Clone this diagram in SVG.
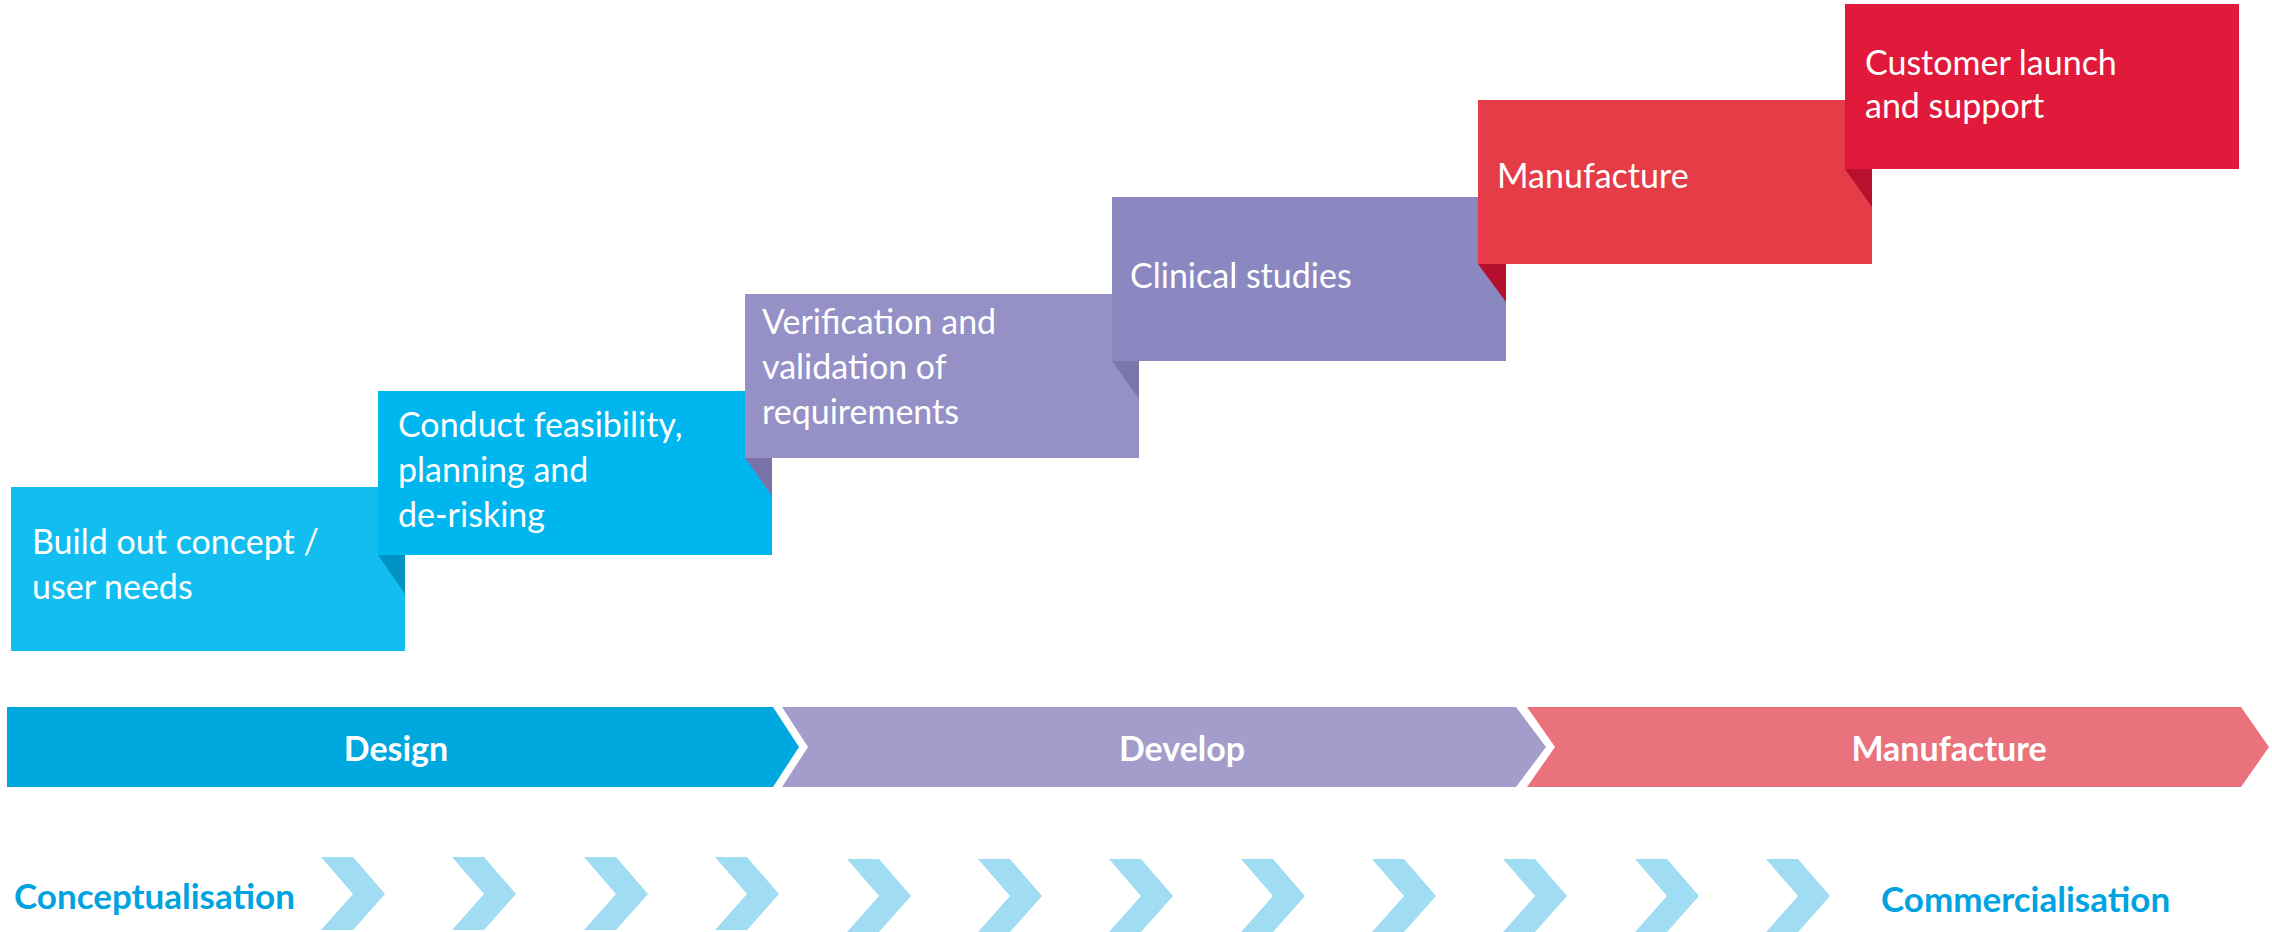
<svg xmlns="http://www.w3.org/2000/svg" width="2272" height="932" viewBox="0 0 2272 932">
<style>
.t{font-family:Lato,"Liberation Sans",sans-serif;font-size:34px;fill:#fff}
.b{font-family:Lato,"Liberation Sans",sans-serif;font-size:34px;font-weight:bold}
.l{font-size:35px}
.w{fill:#fff}
.c{fill:#00A3DF}
.ch{fill:#A0DDF2}
</style>
<rect width="2272" height="932" fill="#fff"/>
<g id="step1">
<rect x="11" y="487" width="394" height="164" fill="#12BEF0"/>
<text class="t"><tspan x="32" y="554">Build out concept /</tspan><tspan x="32" y="599">user needs</tspan></text>
</g>
<g id="step2">
<rect x="378" y="391" width="394" height="164" fill="#00B6EE"/>
<polygon points="378,555 405,555 405,594" fill="#0093C3"/>
<text class="t"><tspan x="398" y="437">Conduct feasibility,</tspan><tspan x="398" y="482">planning and</tspan><tspan x="398" y="527">de-risking</tspan></text>
</g>
<g id="step3">
<rect x="745" y="294" width="394" height="164" fill="#9590C6"/>
<polygon points="745,458 772,458 772,496" fill="#7A73A9"/>
<text class="t"><tspan x="762" y="334">Verification and</tspan><tspan x="762" y="379">validation of</tspan><tspan x="762" y="424">requirements</tspan></text>
</g>
<g id="step4">
<rect x="1112" y="197" width="394" height="164" fill="#8B88C1"/>
<polygon points="1112,361 1139,361 1139,399" fill="#7A76A9"/>
<text class="t" x="1130" y="288">Clinical studies</text>
</g>
<g id="step5">
<rect x="1478" y="100" width="394" height="164" fill="#E63C47"/>
<polygon points="1478,264 1506,264 1506,302" fill="#B50F2F"/>
<text class="t" x="1497" y="188">Manufacture</text>
</g>
<g id="step6">
<rect x="1845" y="4" width="394" height="165" fill="#E1193A"/>
<polygon points="1845,169 1872,169 1872,207" fill="#B8102F"/>
<text class="t"><tspan x="1865" y="75">Customer launch</tspan><tspan x="1865" y="118">and support</tspan></text>
</g>
<g id="phase-design">
<polygon points="7,707 773,707 799,747 773,787 7,787" fill="#00A8E0"/>
<text class="b w" x="396" y="761" text-anchor="middle">Design</text>
</g>
<g id="phase-develop">
<polygon points="782,707 1516,707 1546,747 1516,787 782,787 808,747" fill="#A29DCB"/>
<text class="b w" x="1182" y="761" text-anchor="middle">Develop</text>
</g>
<g id="phase-manufacture">
<polygon points="1527,707 2241,707 2269,747 2241,787 1527,787 1555,747" fill="#EA727C"/>
<text class="b w" x="1949" y="761" text-anchor="middle">Manufacture</text>
</g>
<g id="connectors">
<defs><polygon id="chev" points="0,0 32,0 64,37 32,73 0,73 32,37"/></defs>
<use href="#chev" class="ch" x="321" y="857"/>
<use href="#chev" class="ch" x="452" y="857"/>
<use href="#chev" class="ch" x="584" y="857"/>
<use href="#chev" class="ch" x="715" y="857"/>
<use href="#chev" class="ch" x="847" y="859"/>
<use href="#chev" class="ch" x="978" y="859"/>
<use href="#chev" class="ch" x="1109" y="859"/>
<use href="#chev" class="ch" x="1241" y="859"/>
<use href="#chev" class="ch" x="1372" y="859"/>
<use href="#chev" class="ch" x="1503" y="859"/>
<use href="#chev" class="ch" x="1635" y="859"/>
<use href="#chev" class="ch" x="1766" y="859"/>
</g>
<g id="label-start"><text class="b c l" x="14" y="909">Conceptualisation</text></g>
<g id="label-end"><text class="b c l" x="1881" y="912">Commercialisation</text></g>
</svg>
